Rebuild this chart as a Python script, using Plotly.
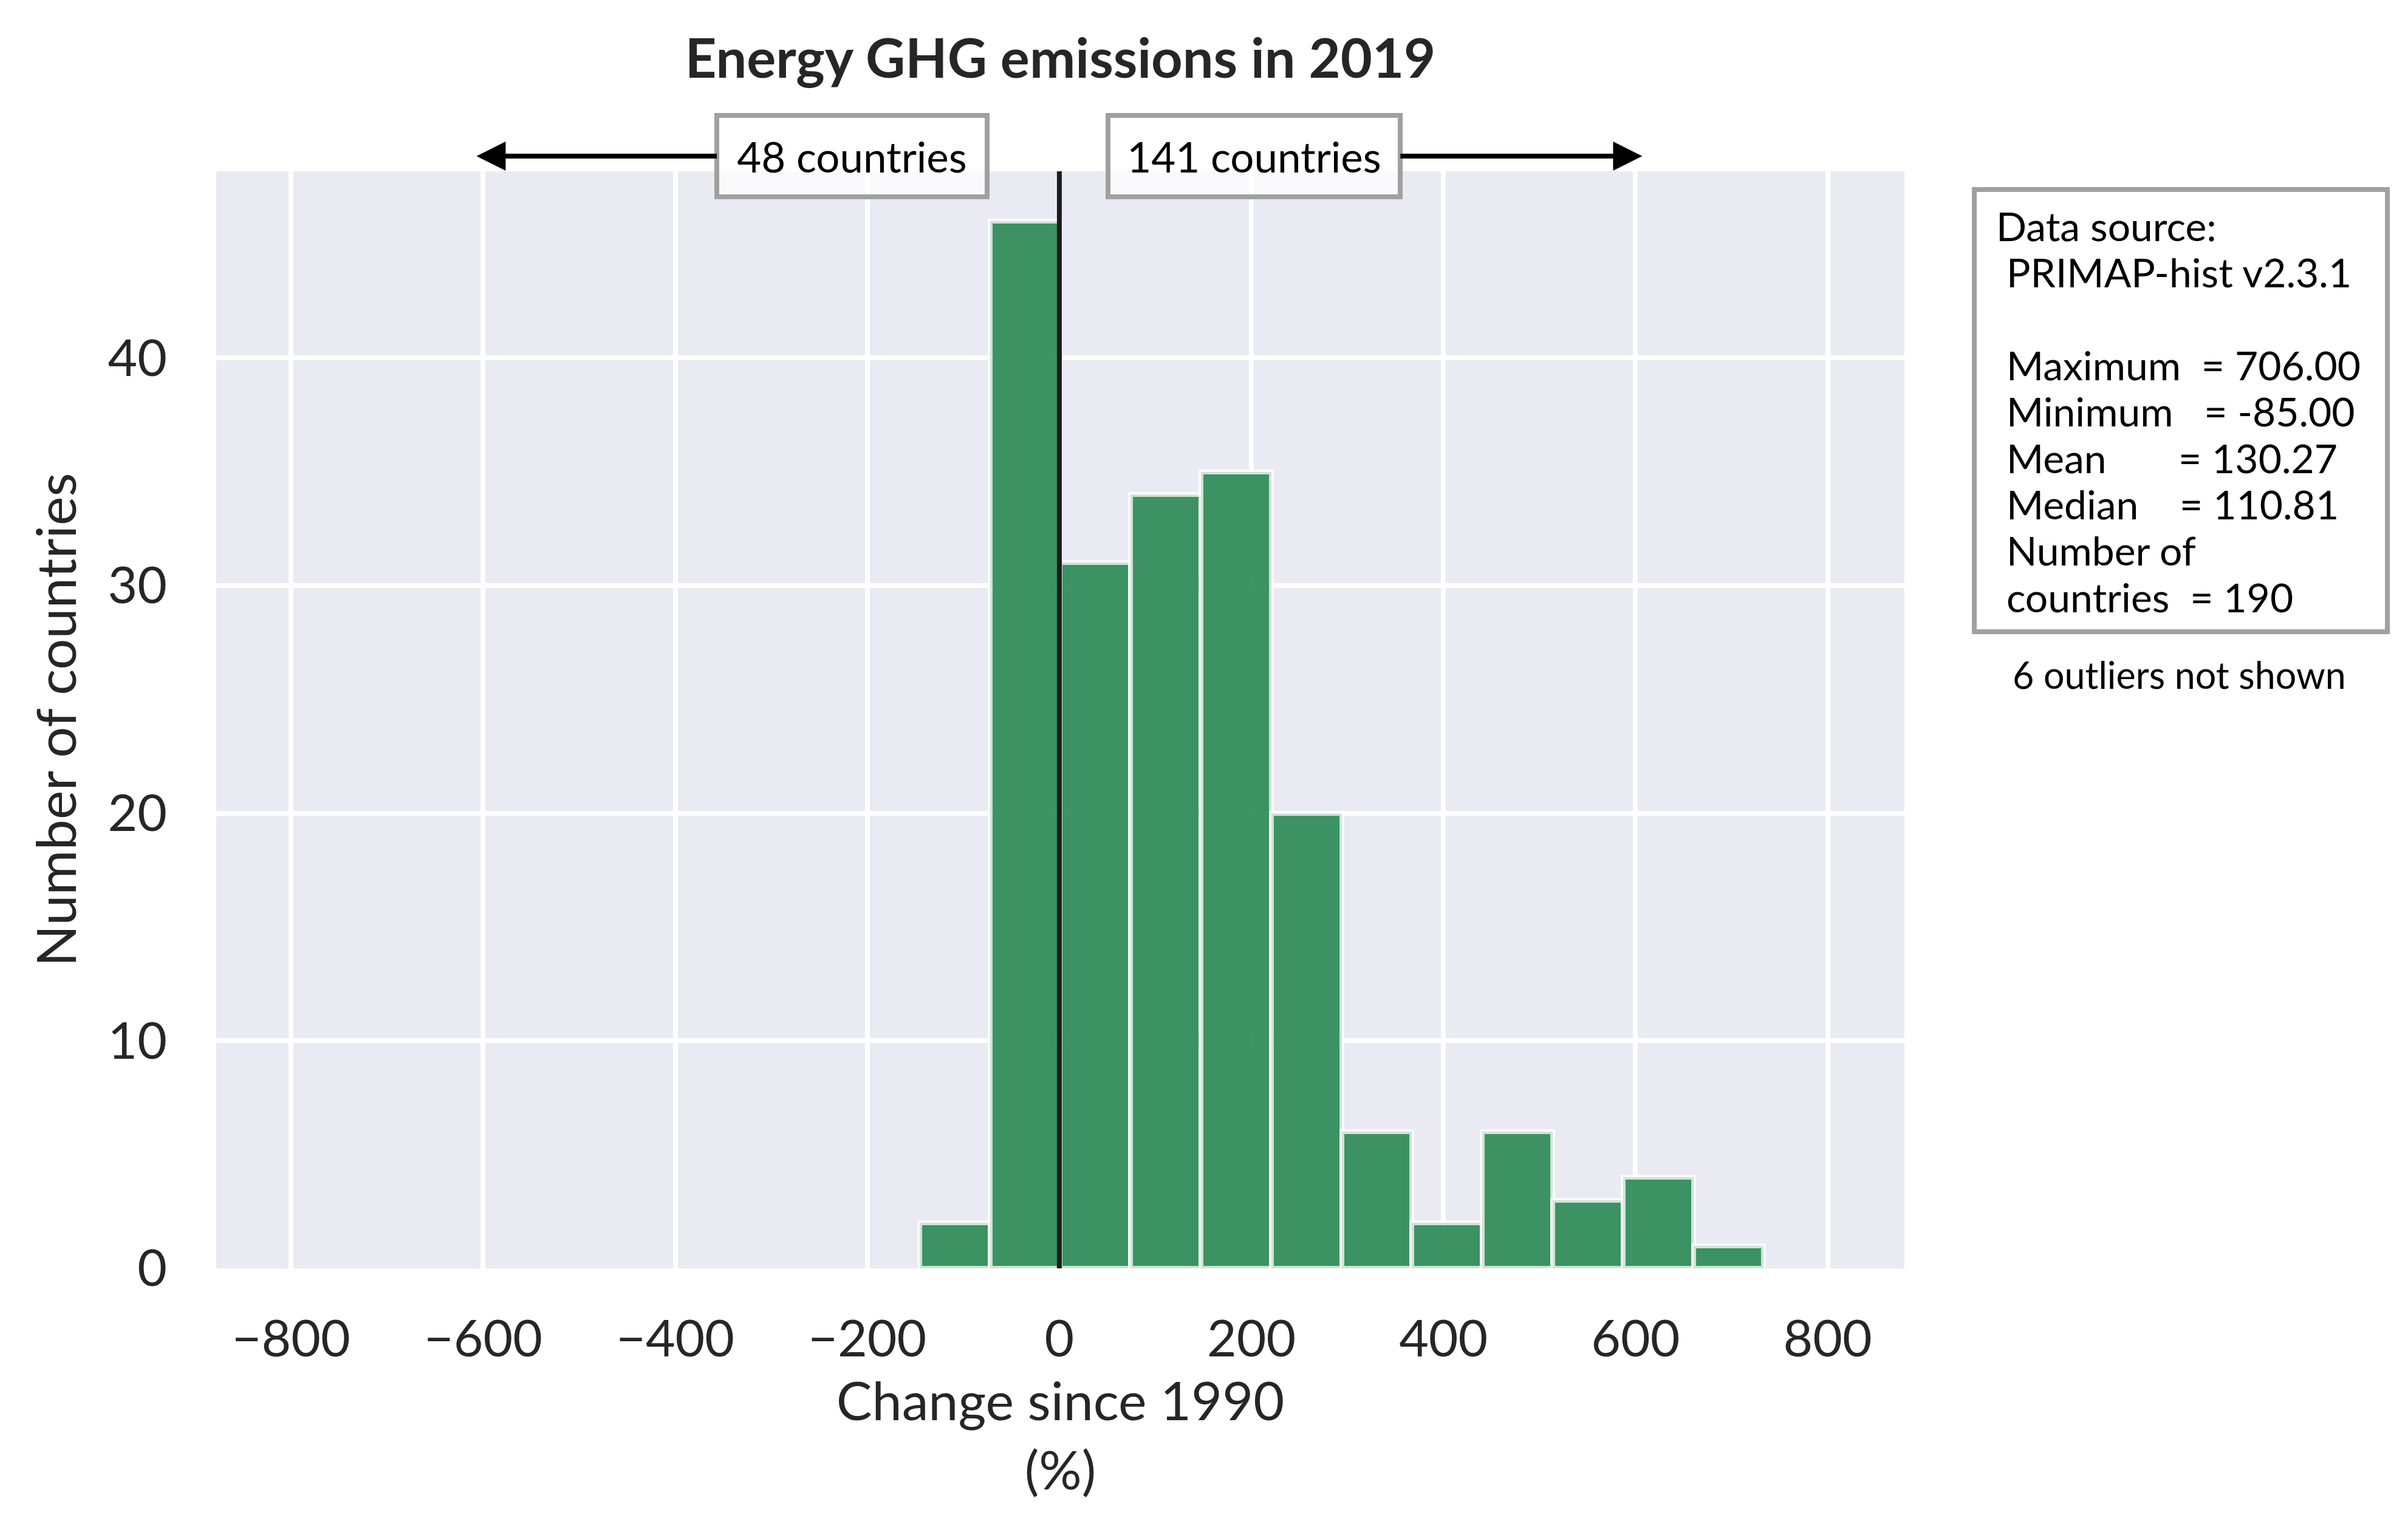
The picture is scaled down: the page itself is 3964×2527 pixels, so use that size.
import plotly.graph_objects as go

# ## Data

bin_left = -145.6
bin_width = 73.26
counts = [2, 46, 31, 34, 35, 20, 6, 2, 6, 3, 4, 1]

x_ticks = [-800, -600, -400, -200, 0, 200, 400, 600, 800]
y_ticks = [0, 10, 20, 30, 40]

n_below = 48
n_above = 141
n_outliers = 6
stat_names = ["Maximum", "Minimum", "Mean", "Median"]
stat_gaps = [2, 3, 7, 4]
stat_values = ["706.00", "-85.00", "130.27", "110.81"]
n_countries = 190
source = "PRIMAP-hist v2.3.1"

FONT = "Lato, Liberation Sans, Arial"
TXT = "#262626"
NB = "&nbsp;"

# page is offset by the browser's 8px body margin
W, H, OFF = 3964 - 8, 2527 - 8, 8

centers = [bin_left + bin_width * (i + 0.5) for i in range(len(counts))]

fig = go.Figure()
fig.add_trace(go.Bar(
    x=centers, y=counts, width=bin_width,
    marker=dict(color="rgba(46,139,87,0.93)",
                line=dict(color="rgba(255,255,255,0.75)", width=8)),
    showlegend=False))

fig.add_shape(type="line", x0=0, x1=0, xref="x", y0=0, y1=1, yref="paper",
              line=dict(color="#1c1c1c", width=8), layer="above")

# arrows with counts either side of zero
box = dict(bgcolor="rgba(255,255,255,0.75)", bordercolor="#a0a0a0",
           borderwidth=8, borderpad=10, font=dict(family=FONT, size=69, color="black"),
           showarrow=True, arrowhead=2, arrowsize=1.2, arrowwidth=8, arrowcolor="black",
           xref="x", yref="paper", axref="x", ayref="pixel", ay=0, height=106)
fig.add_annotation(text=f"{n_below} countries", x=-607, y=1.0138, ax=-216,
                   width=417, **box)
fig.add_annotation(text=f"{n_above} countries", x=607, y=1.0138, ax=203,
                   width=453, **box)

# data source / stats box
fig.add_shape(type="rect", xref="paper", yref="paper",
              x0=1.0414, x1=1.2861, y0=0.5803, y1=0.9834,
              fillcolor="white", line=dict(color="#a0a0a0", width=8), layer="above")

lines = ["Data source:", NB + source, ""]
lines += [f"{NB}{k}{NB * g}= {v}" for k, g, v in zip(stat_names, stat_gaps, stat_values)]
lines += [NB + "Number of", f"{NB}countries{NB * 2}= {n_countries}"]
for i, line in enumerate(lines):
    if not line:
        continue
    fig.add_annotation(text=line, xref="paper", yref="paper",
                       x=1.0536, y=(2088 - 371 - 76.4 * i) / 1806,
                       xanchor="left", yanchor="middle", showarrow=False,
                       font=dict(family=FONT, size=66, color="black"))

fig.add_annotation(text=f"{n_outliers} outliers not shown", xref="paper", yref="paper",
                   x=1.1627, y=0.5415, xanchor="center", yanchor="middle",
                   showarrow=False, font=dict(family=FONT, size=61, color="black"))

fig.update_layout(
    width=W, height=H,
    margin=dict(l=356 - OFF, r=829, t=282 - OFF, b=439),
    paper_bgcolor="white", plot_bgcolor="#eaeaf2",
    font=dict(family=FONT, color=TXT),
    bargap=0,
    title=dict(text="<b>Energy GHG emissions in 2019</b>", x=0.5, xref="paper",
               y=1 - (96 - OFF) / H, yref="container", xanchor="center", yanchor="middle",
               font=dict(family=FONT, size=90, color=TXT)),
    xaxis=dict(range=[-878, 880], tickvals=x_ticks, showgrid=True,
               gridcolor="white", gridwidth=8, zeroline=False, showline=False,
               ticks="", ticklabelstandoff=60, tickfont=dict(size=84, color=TXT),
               title=dict(text="Change since 1990<br>(%)", standoff=22,
                          font=dict(size=88, color=TXT))),
    yaxis=dict(range=[0, 48.2], tickvals=y_ticks, showgrid=True,
               gridcolor="white", gridwidth=8, zeroline=False, showline=False,
               ticks="", ticklabelstandoff=80, tickfont=dict(size=84, color=TXT),
               title=dict(text="Number of countries", standoff=22,
                          font=dict(size=90, color=TXT))),
)

fig.write_html("out.html")
